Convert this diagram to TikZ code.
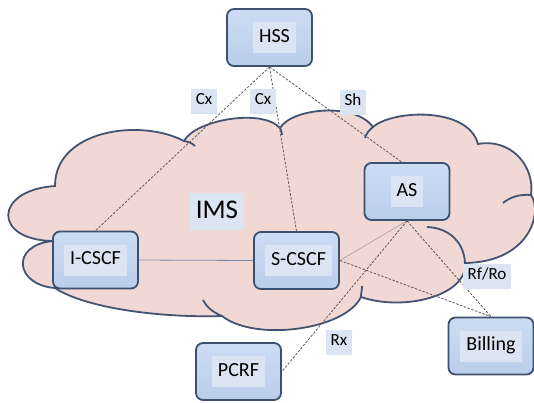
\documentclass[tikz,border=0pt]{standalone}
\usepackage{fontspec}
\setmainfont{Carlito}
\usepackage{tikz}
\pgfdeclarelayer{background}
\pgfdeclarelayer{foreground}
\pgfsetlayers{background,main,foreground}
\definecolor{cloudfill}{RGB}{242,216,213}
\definecolor{cloudedge}{RGB}{66,84,114}
\definecolor{boxedge}{RGB}{62,80,112}
\definecolor{boxtop}{RGB}{204,220,243}
\definecolor{boxbot}{RGB}{186,205,234}
\definecolor{tagfill}{RGB}{219,228,243}
\definecolor{dashgrey}{RGB}{95,88,84}
\tikzstyle{unit}=[draw=boxedge, line width=1.8pt, rounded corners=7pt,
    top color=boxtop, bottom color=boxbot, minimum width=85pt, minimum height=57pt]
\tikzstyle{tag}=[fill=tagfill, font=\fontsize{20}{24}\selectfont, inner xsep=6pt,
    inner ysep=0pt, text height=13pt, text depth=4pt, minimum height=31pt]
\tikzstyle{iface}=[fill=tagfill, font=\fontsize{17}{20}\selectfont, inner xsep=5pt,
    inner ysep=0pt, text height=11pt, text depth=3.5pt, minimum height=25pt]
\tikzstyle{link}=[line width=0.8pt, draw=dashgrey, dash pattern=on 2.5pt off 1.5pt]
\tikzstyle{cloudline}=[draw=cloudedge, line width=1.8pt]

\begin{document}
\begin{tikzpicture}[x=1pt,y=-1pt]
  \useasboundingbox (0,0) rectangle (534,402);
  \node at (269.5,37.5) (hss)[unit] {};
  \path (hss.center) +(5,0) node (hsstag)[tag] {HSS};
  \node at (407,191.5) (as)[unit] {};
  \node at (as.center) (astag)[tag] {AS};
  \node at (95.5,260) (icscf)[unit] {};
  \node at (icscf.center) (icscftag)[tag] {I-CSCF};
  \node at (296.5,260.5) (scscf)[unit] {};
  \path (scscf.center) +(2,0) node (scscftag)[tag] {S-CSCF};
  \node at (491,346) (billing)[unit] {};
  \node at (billing.center) (billingtag)[tag] {Billing};
  \node at (238.5,371.5) (pcrf)[unit] {};
  \node at (pcrf.center) (pcrftag)[tag] {PCRF};

  \draw[link] (hss.south) -- (icscf.north);
  \draw[link] (hss.south) -- (scscf.north);
  \draw[link] (hss.south) -- (as.100);
  \draw[line width=0.8pt, draw={rgb,255:red,120;green,140;blue,176}] (icscf.east) -- (scscf.west);
  \draw[line width=0.8pt, draw={rgb,255:red,172;green,172;blue,178}] (as.south) -- (scscf.east);
  \draw[link] (as.south) -- (pcrf.east);
  \draw[link] (as.south) -- (billing.north);
  \draw[link] (scscf.east) -- (billing.north);

  \node at (204,101) (cxi)[iface] {Cx};
  \node at (263,101) (cxs)[iface] {Cx};
  \node at (353,102) (sh)[iface] {Sh};
  \node at (339,342) (rx)[iface] {Rx};
  \node at (487,276) (rfro)[iface] {Rf/Ro};
  \node at (217,211) (ims)[tag, font=\fontsize{27}{30}\selectfont, text height=17.5pt,
      text depth=2pt, minimum height=37pt] {IMS};

  \begin{pgfonlayer}{background}
    \path[cloudline, fill=cloudfill] (53,241) .. controls (-8,240) and (-6,190) .. (55,186)
      .. controls (55,130) and (140,118) .. (184,141)
      .. controls (195,120) and (262,108) .. (280,128)
      .. controls (292,108) and (355,102) .. (373,127)
      .. controls (392,110) and (468,106) .. (478,144)
      .. controls (510,138) and (535,165) .. (531,195)
      .. controls (543,212) and (530,262) .. (465,263)
      .. controls (468,295) and (405,312) .. (361,297)
      .. controls (345,330) and (255,342) .. (222,316)
      .. controls (160,318) and (85,308) .. (55,288)
      .. controls (15,285) and (10,245) .. (53,241) -- cycle;
    \draw[cloudline] (184,141) .. controls (189,142) and (192,143) .. (195,146);
    \draw[cloudline] (280,128) .. controls (281,130) and (282,132) .. (282,135);
    \draw[cloudline] (373,127) .. controls (369,130) and (366,134) .. (365,138);
    \draw[cloudline] (531,195) .. controls (520,194) and (510,197) .. (503,203);
    \draw[cloudline] (427,227) .. controls (450,228) and (464,243) .. (465,263);
    \draw[cloudline] (361,297) .. controls (361,293) and (362,290) .. (362,286);
    \draw[cloudline] (222,316) .. controls (212,312) and (206,306) .. (203,300);
  \end{pgfonlayer}
\end{tikzpicture}
\end{document}
